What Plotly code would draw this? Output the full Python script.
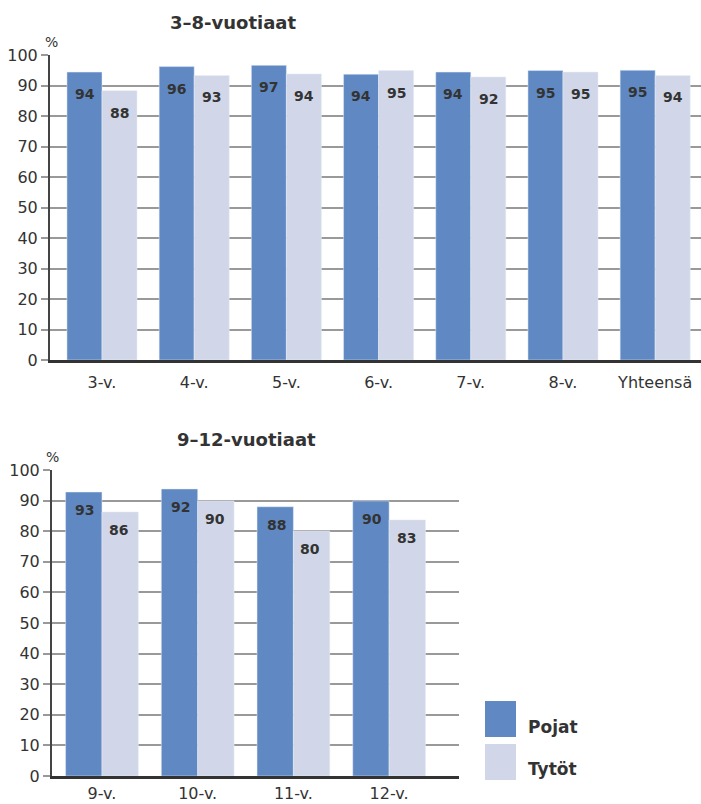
import plotly.graph_objects as go

# ---- data ----
cats_top = ["3-v.", "4-v.", "5-v.", "6-v.", "7-v.", "8-v.", "Yhteensä"]
boys_top = [94.4, 96.2, 96.6, 93.7, 94.4, 94.9, 95.0]
girls_top = [88.3, 93.3, 93.8, 94.9, 92.8, 94.4, 93.3]
boys_top_lbl = [94, 96, 97, 94, 94, 95, 95]
girls_top_lbl = [88, 93, 94, 95, 92, 95, 94]

cats_bot = ["9-v.", "10-v.", "11-v.", "12-v."]
boys_bot = [92.8, 93.8, 88.0, 89.9]
girls_bot = [86.3, 89.9, 80.1, 83.7]
boys_bot_lbl = [93, 92, 88, 90]
girls_bot_lbl = [86, 90, 80, 83]

title_top = "3–8-vuotiaat"
title_bot = "9–12-vuotiaat"
series_names = ["Pojat", "Tytöt"]
yticks = list(range(0, 101, 10))

# ---- style ----
W, H = 701, 804
BLUE = "#6089C3"
LIGHT = "#D1D7E8"
TXT = "#333333"
GRID = "#999999"
FONT = "DejaVu Sans"

def px(x):
    return x / W

def py(y):
    return 1 - y / H

fig = go.Figure()
fig.add_trace(go.Bar(x=cats_top, y=boys_top, marker_color=BLUE, name=series_names[0],
                     xaxis="x", yaxis="y", showlegend=False, hoverinfo="skip"))
fig.add_trace(go.Bar(x=cats_top, y=girls_top, marker_color=LIGHT, name=series_names[1],
                     xaxis="x", yaxis="y", showlegend=False, hoverinfo="skip"))
fig.add_trace(go.Bar(x=cats_bot, y=boys_bot, marker_color=BLUE, name=series_names[0],
                     xaxis="x2", yaxis="y2", showlegend=False, hoverinfo="skip"))
fig.add_trace(go.Bar(x=cats_bot, y=girls_bot, marker_color=LIGHT, name=series_names[1],
                     xaxis="x2", yaxis="y2", showlegend=False, hoverinfo="skip"))

annots = []
def bar_labels(cats, vals, lbls, xref, yref, xshift, yshift):
    for c, v, l in zip(cats, vals, lbls):
        annots.append(dict(x=c, y=v, xref=xref, yref=yref, text=str(l), showarrow=False,
                           xshift=xshift, yshift=yshift, yanchor="middle",
                           font=dict(family=FONT, size=14, color=TXT, weight="bold")))

bar_labels(cats_top, boys_top, boys_top_lbl, "x", "y", -17.5, -22)
bar_labels(cats_top, girls_top, girls_top_lbl, "x", "y", 17.5, -22)
bar_labels(cats_bot, boys_bot, boys_bot_lbl, "x2", "y2", -17, -18)
bar_labels(cats_bot, girls_bot, girls_bot_lbl, "x2", "y2", 17, -18)

# titles and % labels
annots.append(dict(x=px(233), y=py(22), xref="paper", yref="paper", text=title_top, showarrow=False,
                   xanchor="center", yanchor="middle",
                   font=dict(family=FONT, size=18, color=TXT, weight="bold")))
annots.append(dict(x=px(247), y=py(440), xref="paper", yref="paper", text=title_bot, showarrow=False,
                   xanchor="center", yanchor="middle",
                   font=dict(family=FONT, size=18, color=TXT, weight="bold")))
annots.append(dict(x=px(51), y=py(42), xref="paper", yref="paper", text="%", showarrow=False,
                   xanchor="center", yanchor="middle", font=dict(family=FONT, size=14, color=TXT)))
annots.append(dict(x=px(52), y=py(457), xref="paper", yref="paper", text="%", showarrow=False,
                   xanchor="center", yanchor="middle", font=dict(family=FONT, size=14, color=TXT)))

# legend
shapes = [
    dict(type="rect", xref="paper", yref="paper", x0=px(485), x1=px(516), y0=py(737), y1=py(701),
         fillcolor=BLUE, line=dict(width=0)),
    dict(type="rect", xref="paper", yref="paper", x0=px(485), x1=px(516), y0=py(780), y1=py(744),
         fillcolor=LIGHT, line=dict(width=0)),
]
annots.append(dict(x=px(526), y=py(727), xref="paper", yref="paper", text=series_names[0], showarrow=False,
                   xanchor="left", yanchor="middle",
                   font=dict(family=FONT, size=17, color=TXT, weight="bold")))
annots.append(dict(x=px(526), y=py(769), xref="paper", yref="paper", text=series_names[1], showarrow=False,
                   xanchor="left", yanchor="middle",
                   font=dict(family=FONT, size=17, color=TXT, weight="bold")))

yax_common = dict(range=[0, 100], tickvals=yticks, showgrid=True, gridcolor=GRID, gridwidth=2,
                  showline=True, linecolor="#444444", linewidth=2, ticks="outside", ticklen=7,
                  tickwidth=2, tickcolor=GRID, tickfont=dict(family=FONT, size=16, color=TXT),
                  zeroline=False, fixedrange=True, automargin=False)
xax_common = dict(type="category", showgrid=False, showline=True, linecolor="#333333", linewidth=3,
                  ticks="", tickfont=dict(family=FONT, size=16, color=TXT),
                  zeroline=False, fixedrange=True, automargin=False)

fig.update_layout(
    width=W, height=H, margin=dict(l=0, r=0, t=0, b=0, autoexpand=False),
    paper_bgcolor="white", plot_bgcolor="white",
    barmode="group", bargap=0.24, bargroupgap=0,
    xaxis=dict(domain=[px(50), 1.0], range=[-0.564, 6.497], anchor="y", ticklabelstandoff=6, **xax_common),
    yaxis=dict(domain=[py(360), py(55)], anchor="x", **yax_common),
    xaxis2=dict(domain=[px(52), px(459)], range=[-0.522, 3.73], anchor="y2", ticklabelstandoff=1, **xax_common),
    yaxis2=dict(domain=[py(776), py(470)], anchor="x2", **yax_common),
    annotations=annots, shapes=shapes,
)

fig.write_html("out.html", config={"displayModeBar": False},
               post_script="document.body.style.margin='0';document.body.style.overflow='hidden';")
